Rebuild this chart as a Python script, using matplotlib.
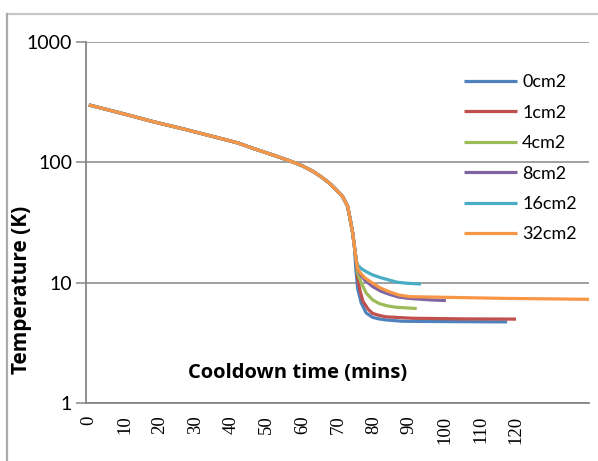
import matplotlib
matplotlib.use("Agg")
import matplotlib.pyplot as plt
from matplotlib.lines import Line2D

# ---- data ----
common_time = [0, 10, 18, 27, 37, 42, 46, 51, 56.4, 60, 63, 65.5, 67.6, 69.5, 71.3, 72.7, 73.3, 74.1, 74.6]
common_temp = [300, 252, 218, 188, 158, 144.5, 131, 117, 103, 93.5, 84, 75, 67, 59, 52, 43, 35, 26, 20]

series_labels = ["0cm2", "1cm2", "4cm2", "8cm2", "16cm2", "32cm2"]
series_colors = ["#4F81BD", "#C0504D", "#9BBB59", "#8064A2", "#4BACC6", "#F79646"]

tail_time_0 = [75.0, 75.5, 76.5, 77.9, 79.7, 81.5, 83.5, 88, 100, 117.5]
tail_temp_0 = [13.0, 9.0, 6.8, 5.6, 5.15, 5.0, 4.9, 4.78, 4.75, 4.72]

tail_time_1 = [75.1, 75.5, 76.2, 77.0, 78.5, 79.7, 81.5, 83.5, 91, 105, 120]
tail_temp_1 = [15.4, 11.0, 8.5, 7.0, 6.0, 5.55, 5.35, 5.2, 5.06, 5.0, 4.98]

tail_time_4 = [75.1, 75.5, 76.5, 77.9, 79.7, 81.6, 84.0, 86.3, 92.1]
tail_temp_4 = [15.4, 12.0, 10.0, 8.2, 7.2, 6.7, 6.4, 6.25, 6.1]

tail_time_8 = [75.1, 75.5, 76.0, 77.5, 79.7, 82.0, 84.4, 87.0, 90.0, 95.6, 100.3]
tail_temp_8 = [15.4, 13.2, 12.0, 10.5, 9.3, 8.5, 8.0, 7.6, 7.4, 7.2, 7.1]

tail_time_16 = [75.1, 75.5, 76.5, 78.0, 79.7, 82.0, 84.4, 86.5, 89.1, 93.3]
tail_temp_16 = [15.4, 14.0, 13.1, 12.3, 11.6, 11.0, 10.5, 10.1, 9.9, 9.75]

tail_time_32 = [75.1, 75.5, 76.0, 77.5, 79.7, 82.0, 84.4, 87.0, 90.0, 101, 117, 130, 140.5]
tail_temp_32 = [15.4, 13.2, 12.3, 11.0, 9.9, 9.0, 8.4, 7.9, 7.65, 7.55, 7.4, 7.33, 7.27]

tails = [(tail_time_0, tail_temp_0), (tail_time_1, tail_temp_1), (tail_time_4, tail_temp_4),
         (tail_time_8, tail_temp_8), (tail_time_16, tail_temp_16), (tail_time_32, tail_temp_32)]

x_ticks = [0, 10, 20, 30, 40, 50, 60, 70, 80, 90, 100, 110, 120]
y_ticks = [1, 10, 100, 1000]
y_tick_labels = ["1", "10", "100", "1000"]

# ---- figure ----
W, H = 598, 461
fig = plt.figure(figsize=(W / 100, H / 100), dpi=100)
ax = fig.add_axes([86 / W, 1 - 403 / H, (589 - 86) / W, (403 - 42) / H])

for (tt, tv), lab, col in zip(tails, series_labels, series_colors):
    ax.plot(common_time + tt, common_temp + tv, color=col, lw=2.3, label=lab,
            solid_joinstyle="round", solid_capstyle="butt")

ax.set_yscale("log")
ax.set_ylim(1, 1000)
ax.set_xlim(-0.8, 140.5)
ax.set_yticks(y_ticks)
ax.set_yticklabels(y_tick_labels, family="Lato", fontsize=14)
ax.minorticks_off()
ax.yaxis.grid(True, color="#868686", lw=1.1)
ax.set_axisbelow(True)

ax.set_xticks(x_ticks)
ax.set_xticklabels([str(v) for v in x_ticks], family="Liberation Serif", fontsize=13.5, rotation=90)
ax.tick_params(axis="x", length=0, pad=9)
ax.tick_params(axis="y", length=7, width=1.1, color="#868686", pad=3)

for s in ["top", "right"]:
    ax.spines[s].set_visible(False)
ax.spines["left"].set_color("#868686")
ax.spines["left"].set_linewidth(1.3)
ax.spines["bottom"].set_color("#868686")
ax.spines["bottom"].set_linewidth(1.3)

# axis titles
fig.text(298 / W, 1 - 373 / H, "Cooldown time (mins)", family="Open Sans", fontweight="bold",
         fontsize=14.5, ha="center", va="center")
fig.text(22 / W, 1 - 290 / H, "Temperature (K)", family="Open Sans", fontweight="bold",
         fontsize=15, ha="center", va="center", rotation=90)

leg = ax.legend(loc="upper left", bbox_to_anchor=(448 / W, 1 - 58 / H), bbox_transform=fig.transFigure,
                frameon=False, prop={"family": "Lato", "size": 13}, handlelength=2.9,
                handletextpad=0.3, labelspacing=0.8)

# outer chart frame (partially visible)
fig.add_artist(Line2D([7 / W, 1], [1 - 14 / H, 1 - 14 / H], color="#c8c8c8", lw=1.6, transform=fig.transFigure))
fig.add_artist(Line2D([7 / W, 7 / W], [0, 1 - 14 / H], color="#aaaaaa", lw=1.6, transform=fig.transFigure))

fig.savefig("out.png", dpi=100)
